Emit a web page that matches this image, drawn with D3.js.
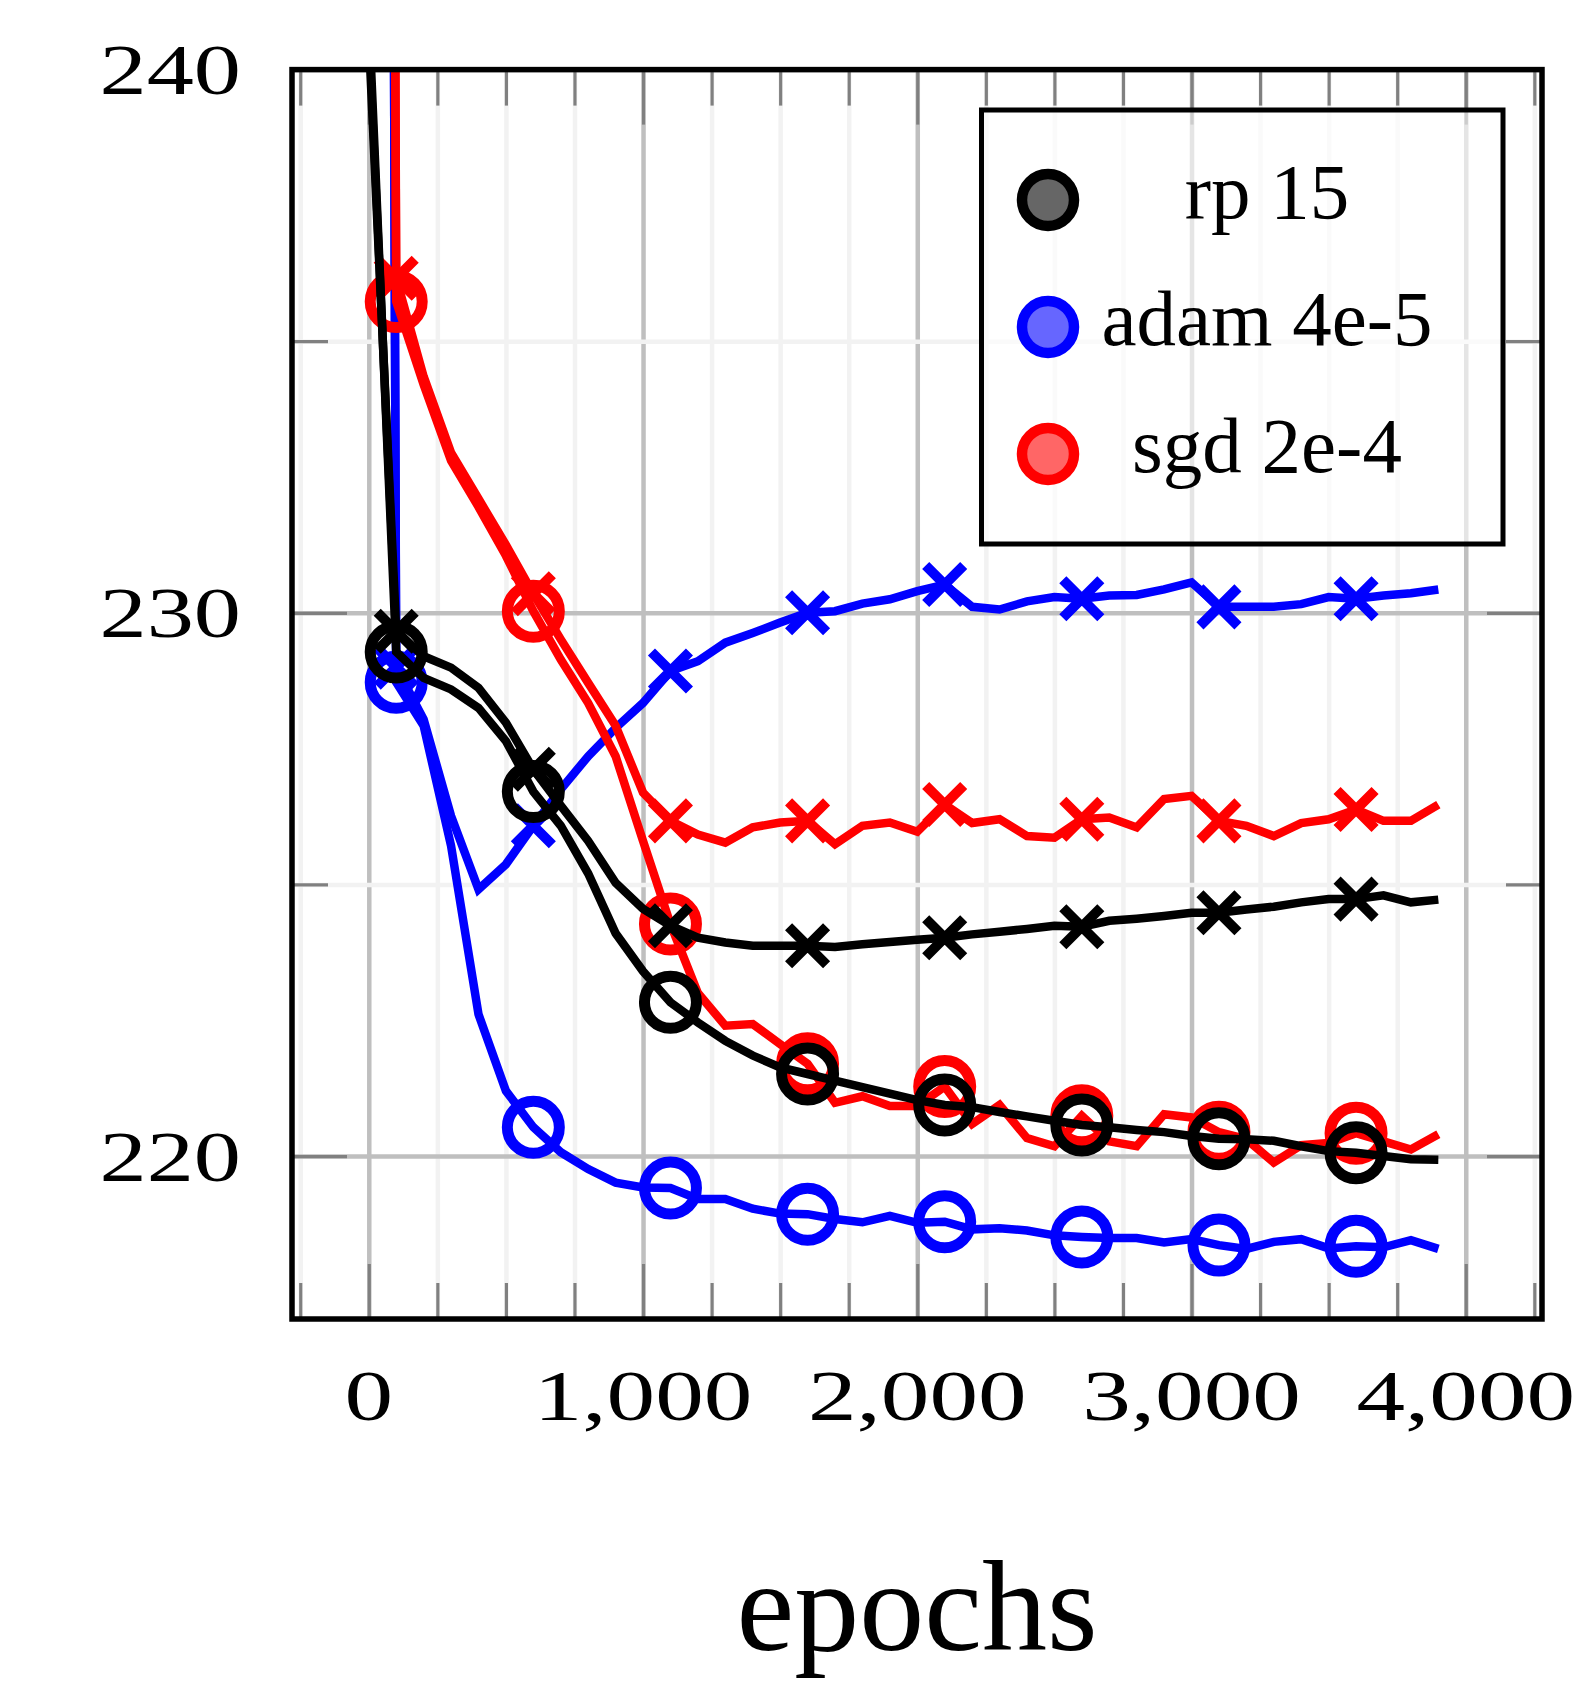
<!DOCTYPE html>
<html>
<head>
<meta charset="utf-8">
<script src="https://cdn.jsdelivr.net/npm/d3@7/dist/d3.min.js"></script>
<style>
  body { margin: 0; background: #fff; }
  text { font-family: "Liberation Serif", "Times New Roman", serif; fill: #000; }
</style>
</head>
<body>
<div class="chart"></div>
<script>
const width = 1579;
const height = 1681;
const frame = { left: 292, right: 1542, top: 69.6, bottom: 1319 };

// data
const epochs = [0, 100, 200, 300, 400, 500, 600, 700, 800, 900,
  1000, 1100, 1200, 1300, 1400, 1500, 1600, 1700, 1800, 1900,
  2000, 2100, 2200, 2300, 2400, 2500, 2600, 2700, 2800, 2900,
  3000, 3100, 3200, 3300, 3400, 3500, 3600, 3700, 3800, 3900];

const rpCross = [240.6, 229.66, 229.2, 228.99, 228.62, 227.98, 227.12, 226.45, 225.8, 225.03,
  224.55, 224.24, 224.02, 223.93, 223.87, 223.87, 223.87, 223.85, 223.9, 223.94,
  223.98, 224.02, 224.08, 224.13, 224.18, 224.24, 224.22, 224.33, 224.37, 224.42,
  224.48, 224.48, 224.54, 224.59, 224.67, 224.73, 224.73, 224.8, 224.67, 224.72];
const rpCircle = [241.0, 229.28, 228.8, 228.59, 228.25, 227.64, 226.71, 226.08, 225.2, 224.1,
  223.4, 222.83, 222.46, 222.12, 221.85, 221.63, 221.51, 221.39, 221.27, 221.15,
  221.03, 220.94, 220.9, 220.81, 220.73, 220.65, 220.57, 220.53, 220.48, 220.44,
  220.37, 220.32, 220.31, 220.28, 220.18, 220.09, 220.06, 220.0, 219.94, 219.93];

const adamCross = [368, 229.0, 228.04, 226.26, 224.91, 225.37, 226.08, 226.75, 227.36, 227.88,
  228.34, 228.93, 229.11, 229.45, 229.63, 229.82, 230.0, 230.03, 230.17, 230.25,
  230.4, 230.52, 230.11, 230.06, 230.21, 230.29, 230.26, 230.32, 230.33, 230.43,
  230.56, 230.11, 230.11, 230.11, 230.16, 230.29, 230.26, 230.32, 230.36, 230.43];
const adamCircle = [372, 228.72, 227.92, 225.71, 222.61, 221.2, 220.53, 220.07, 219.76, 219.51,
  219.42, 219.41, 219.21, 219.21, 219.03, 218.94, 218.93, 218.84, 218.78, 218.9,
  218.77, 218.79, 218.65, 218.67, 218.63, 218.54, 218.51, 218.49, 218.49, 218.41,
  218.47, 218.36, 218.29, 218.42, 218.47, 218.3, 218.34, 218.32, 218.45, 218.29];

const sgdCross = [365, 236.16, 234.35, 232.95, 232.1, 231.25, 230.35, 229.51, 228.71, 227.92,
  226.69, 226.17, 225.92, 225.77, 226.05, 226.14, 226.17, 225.74, 226.08, 226.14,
  225.97, 226.47, 226.13, 226.2, 225.89, 225.86, 226.2, 226.23, 226.05, 226.57,
  226.63, 226.17, 226.08, 225.89, 226.13, 226.2, 226.38, 226.17, 226.17, 226.47];
const sgdCircle = [370, 235.73, 234.2, 232.8, 231.95, 231.05, 230.03, 229.14, 228.34, 227.36,
  225.8, 224.27, 223.0, 222.4, 222.43, 222.06, 221.7, 220.98, 221.1, 220.92,
  220.92, 221.28, 220.59, 220.94, 220.33, 220.18, 220.74, 220.27, 220.18, 220.77,
  220.71, 220.44, 220.31, 219.88, 220.2, 220.24, 220.42, 220.27, 220.12, 220.4];

const markEpochs = [100, 600, 1100, 1600, 2100, 2600, 3100, 3600];

const xMajorTicks = [0, 1000, 2000, 3000, 4000];
const xMinorTicks = [-250, 250, 500, 750, 1250, 1500, 1750, 2250, 2500, 2750, 3250, 3500, 3750, 4250];
const yMajorTicks = [220, 230, 240];
const yMinorTicks = [225, 235];

const legendLabels = ["rp 15", "adam 4e-5", "sgd 2e-4"];
const legendColors = ["black", "#0000ff", "#ff0000"];
const legendFills = ["#666666", "#6666ff", "#ff6666"];

// drawing order: adam, sgd, rp (black ends on top)
const series = [
  { values: adamCross, color: "#0000ff", mark: "cross" },
  { values: adamCircle, color: "#0000ff", mark: "circle" },
  { values: sgdCross, color: "#ff0000", mark: "cross" },
  { values: sgdCircle, color: "#ff0000", mark: "circle" },
  { values: rpCross, color: "black", mark: "cross" },
  { values: rpCircle, color: "black", mark: "circle" }
];

const x = d3.scaleLinear().domain([-280, 4278]).range([frame.left, frame.right]);
const y = d3.scaleLinear().domain([217, 240]).range([frame.bottom, frame.top]);
const innerW = frame.right - frame.left;
const innerH = frame.bottom - frame.top;

let svg = d3.select(".chart")
  .append("svg")
  .attr("width", width)
  .attr("height", height)
  .attr("viewBox", `0 0 ${width} ${height}`);

svg.append("defs").append("clipPath")
  .attr("id", "plot-clip")
  .append("rect")
  .attr("x", frame.left)
  .attr("y", frame.top)
  .attr("width", innerW)
  .attr("height", innerH);

function styleAxis(g, color, w) {
  g.select(".domain").remove();
  g.selectAll(".tick line").attr("stroke", color).attr("stroke-width", w);
  g.selectAll(".tick text").remove();
}

// grid: vertical first, horizontal on top
svg.append("g")
  .attr("transform", `translate(0,${frame.bottom})`)
  .call(d3.axisBottom(x).tickValues(xMinorTicks).tickSize(-innerH).tickFormat(""))
  .call(g => styleAxis(g, "#f2f2f2", 4.5));
svg.append("g")
  .attr("transform", `translate(0,${frame.bottom})`)
  .call(d3.axisBottom(x).tickValues(xMajorTicks).tickSize(-innerH).tickFormat(""))
  .call(g => styleAxis(g, "#bfbfbf", 4.5));
svg.append("g")
  .attr("transform", `translate(${frame.left},0)`)
  .call(d3.axisLeft(y).tickValues(yMinorTicks).tickSize(-innerW).tickFormat(""))
  .call(g => styleAxis(g, "#f2f2f2", 4.5));
svg.append("g")
  .attr("transform", `translate(${frame.left},0)`)
  .call(d3.axisLeft(y).tickValues(yMajorTicks).tickSize(-innerW).tickFormat(""))
  .call(g => styleAxis(g, "#bfbfbf", 4.5));

// inward ticks on all four sides
const tickColor = "#808080";
[[xMinorTicks, 36], [xMajorTicks, 55]].forEach(([vals, len]) => {
  svg.append("g").attr("transform", `translate(0,${frame.bottom})`)
    .call(d3.axisBottom(x).tickValues(vals).tickSize(-len).tickFormat(""))
    .call(g => styleAxis(g, tickColor, 3.2));
  svg.append("g").attr("transform", `translate(0,${frame.top})`)
    .call(d3.axisTop(x).tickValues(vals).tickSize(-len).tickFormat(""))
    .call(g => styleAxis(g, tickColor, 3.2));
});
[[yMinorTicks, 36], [yMajorTicks, 55]].forEach(([vals, len]) => {
  svg.append("g").attr("transform", `translate(${frame.left},0)`)
    .call(d3.axisLeft(y).tickValues(vals).tickSize(-len).tickFormat(""))
    .call(g => styleAxis(g, tickColor, 3.2));
  svg.append("g").attr("transform", `translate(${frame.right},0)`)
    .call(d3.axisRight(y).tickValues(vals).tickSize(-len).tickFormat(""))
    .call(g => styleAxis(g, tickColor, 3.2));
});

// lines and marks
const line = d3.line()
  .x((d, i) => x(epochs[i]))
  .y(d => y(d));

let plots = svg.append("g").attr("class", "plots");

series.forEach(s => {
  let g = plots.append("g");
  g.append("path")
    .datum(s.values)
    .attr("clip-path", "url(#plot-clip)")
    .attr("fill", "none")
    .attr("stroke", s.color)
    .attr("stroke-width", 8.5)
    .attr("d", line);

  const marked = epochs
    .map((e, i) => ({ epoch: e, value: s.values[i] }))
    .filter(d => markEpochs.includes(d.epoch));

  if (s.mark === "circle") {
    g.selectAll("circle")
      .data(marked)
      .enter().append("circle")
      .attr("cx", d => x(d.epoch))
      .attr("cy", d => y(d.value))
      .attr("r", 26)
      .attr("fill", "none")
      .attr("stroke", s.color)
      .attr("stroke-width", 11);
  } else {
    const h = 19;
    g.selectAll("path.cross")
      .data(marked)
      .enter().append("path")
      .attr("class", "cross")
      .attr("transform", d => `translate(${x(d.epoch)},${y(d.value)})`)
      .attr("d", `M${-h},${-h}L${h},${h}M${-h},${h}L${h},${-h}`)
      .attr("fill", "none")
      .attr("stroke", s.color)
      .attr("stroke-width", 10);
  }
});

// frame
svg.append("rect")
  .attr("x", frame.left)
  .attr("y", frame.top)
  .attr("width", innerW)
  .attr("height", innerH)
  .attr("fill", "none")
  .attr("stroke", "black")
  .attr("stroke-width", 5.5);

// tick labels
const fmt = d3.format(",");
svg.append("g").selectAll("text")
  .data(xMajorTicks)
  .enter().append("text")
  .attr("transform", d => `translate(${x(d)},1420) scale(1.34,1)`)
  .attr("text-anchor", "middle")
  .style("font-size", "72.5px")
  .text(d => fmt(d));

svg.append("g").selectAll("text")
  .data(yMajorTicks)
  .enter().append("text")
  .attr("transform", d => `translate(241,${y(d) + 24.5}) scale(1.3,1)`)
  .attr("text-anchor", "end")
  .style("font-size", "72.5px")
  .text(d => d);

svg.append("text")
  .attr("x", (frame.left + frame.right) / 2)
  .attr("y", 1650)
  .attr("text-anchor", "middle")
  .style("font-size", "130px")
  .text("epochs");

// legend
let legend = svg.append("g").attr("class", "legend");
legend.append("rect")
  .attr("x", 981.5)
  .attr("y", 110)
  .attr("width", 521.5)
  .attr("height", 434)
  .attr("fill", "white")
  .attr("fill-opacity", 0.6)
  .attr("stroke", "black")
  .attr("stroke-width", 5);

let entries = legend.selectAll("g.entry")
  .data(legendLabels)
  .enter().append("g")
  .attr("class", "entry")
  .attr("transform", (d, i) => `translate(0,${200 + i * 127})`);
entries.append("circle")
  .attr("cx", 1048)
  .attr("cy", 0)
  .attr("r", 26)
  .attr("fill", (d, i) => legendFills[i])
  .attr("stroke", (d, i) => legendColors[i])
  .attr("stroke-width", 10.5);
entries.append("text")
  .attr("x", 1267)
  .attr("y", 18)
  .attr("text-anchor", "middle")
  .style("font-size", "79px")
  .text(d => d);
</script>
</body>
</html>
